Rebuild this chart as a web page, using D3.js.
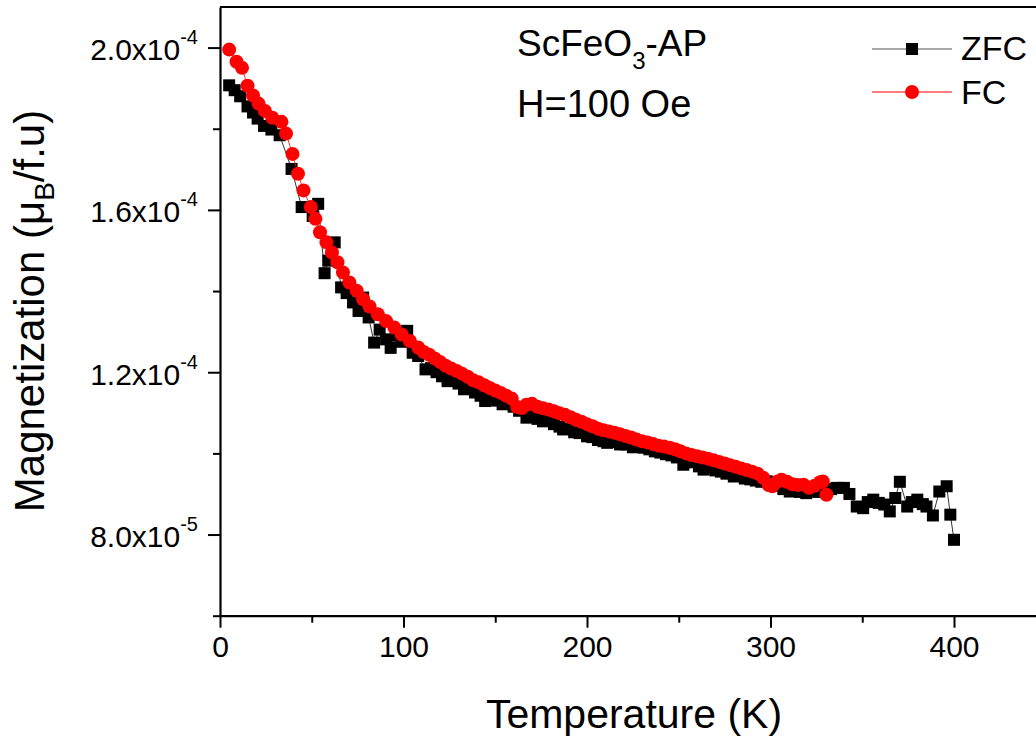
<!DOCTYPE html>
<html>
<head>
<meta charset="utf-8">
<script src="https://cdn.jsdelivr.net/npm/d3@7"></script>
<style>
  body { margin: 0; background: #fff; }
  svg { display: block; font-family: "Liberation Sans", Arial, sans-serif; }
</style>
</head>
<body>
<div id="chart"></div>
<script>
// ZFC branch: temperature (K) and magnetization (muB/f.u)
const zfcT = [5, 8, 11, 15, 18, 20.5, 24, 28, 32.5, 39, 44.5, 50.5, 53.5, 57, 59, 62.5, 66, 69, 72.5, 75.5,
  78, 81, 84, 87, 90.5, 93, 96, 99, 102, 105, 108, 112, 115, 118, 121, 124, 127, 130, 133, 136,
  139, 142, 144.5, 148, 151, 154, 157, 160, 163, 167, 170, 173, 176, 179, 182, 185, 187, 190, 193, 196,
  200, 203, 206, 209, 211, 214, 218, 221.5, 225, 228, 231, 234, 237, 240, 243, 246, 249, 252.5, 255, 258,
  261, 263.5, 267, 270, 273, 276, 280, 283, 286, 289, 292, 295, 298, 301, 304, 307, 310.5, 313, 316, 319.5,
  323, 326, 329, 333, 336, 340, 343, 347, 350.5, 353, 356, 359, 362, 365, 368, 370.5, 374.5, 377, 380, 383,
  385, 388.5, 392, 396, 398, 400];
const zfcM = [19.07e-5, 18.95e-5, 18.80e-5, 18.55e-5, 18.40e-5, 18.25e-5, 18.07e-5, 17.98e-5, 17.84e-5, 17.01e-5,
  16.07e-5, 15.85e-5, 16.15e-5, 14.44e-5, 14.75e-5, 15.20e-5, 14.09e-5, 13.95e-5, 13.72e-5, 13.51e-5,
  13.84e-5, 13.35e-5, 12.73e-5, 13.05e-5, 12.81e-5, 12.60e-5, 12.90e-5, 12.75e-5, 13.02e-5, 12.48e-5,
  12.40e-5, 12.07e-5, 12.10e-5, 12.00e-5, 11.90e-5, 11.78e-5, 11.80e-5, 11.72e-5, 11.58e-5, 11.65e-5,
  11.50e-5, 11.42e-5, 11.29e-5, 11.40e-5, 11.30e-5, 11.21e-5, 11.25e-5, 11.15e-5, 11.05e-5, 10.88e-5,
  10.95e-5, 10.85e-5, 10.79e-5, 10.82e-5, 10.72e-5, 10.66e-5, 10.59e-5, 10.60e-5, 10.52e-5, 10.50e-5,
  10.42e-5, 10.40e-5, 10.33e-5, 10.30e-5, 10.26e-5, 10.28e-5, 10.22e-5, 10.22e-5, 10.15e-5, 10.18e-5,
  10.14e-5, 10.10e-5, 10.05e-5, 10.02e-5, 9.98e-5, 9.95e-5, 9.90e-5, 9.72e-5, 9.85e-5, 9.78e-5,
  9.68e-5, 9.60e-5, 9.65e-5, 9.58e-5, 9.55e-5, 9.50e-5, 9.43e-5, 9.45e-5, 9.38e-5, 9.36e-5,
  9.33e-5, 9.30e-5, 9.31e-5, 9.22e-5, 9.20e-5, 9.12e-5, 9.06e-5, 9.10e-5, 9.05e-5, 9.02e-5,
  9.08e-5, 9.05e-5, 9.10e-5, 9.12e-5, 9.15e-5, 9.15e-5, 9.00e-5, 8.69e-5, 8.65e-5, 8.80e-5,
  8.86e-5, 8.78e-5, 8.74e-5, 8.57e-5, 8.90e-5, 9.30e-5, 8.69e-5, 8.80e-5, 8.86e-5, 8.75e-5,
  8.69e-5, 8.47e-5, 9.06e-5, 9.19e-5, 8.49e-5, 7.87e-5];

// FC branch
const fcT = [5, 9, 12, 15, 18, 21, 24.5, 28.5, 33.5, 36, 39.5, 42.5, 45.5, 49.5, 52, 54.5, 58, 61, 64, 67,
  70.5, 74.5, 78, 81.5, 86, 90.5, 95, 99, 103.5, 108, 111, 114, 117, 120, 123, 126, 129, 132, 135, 138,
  141, 144, 147, 150, 153, 156, 159, 162, 164.5, 167, 170, 173, 176, 179, 182, 185, 188, 191, 194, 197,
  200, 203, 206, 209, 212, 215, 218, 221, 224, 227, 230, 233, 236, 239, 242, 245, 248, 251, 254, 257,
  260, 263, 266, 269, 272, 275, 278, 281, 284, 287, 290, 293, 296, 299, 301, 303.5, 306, 309, 312, 315,
  318, 321, 324, 327, 328.5, 330.5];
const fcM = [19.95e-5, 19.65e-5, 19.50e-5, 19.06e-5, 18.82e-5, 18.62e-5, 18.44e-5, 18.27e-5, 18.17e-5, 17.88e-5,
  17.38e-5, 16.89e-5, 16.48e-5, 16.07e-5, 15.78e-5, 15.45e-5, 15.20e-5, 14.95e-5, 14.71e-5, 14.46e-5,
  14.21e-5, 14.01e-5, 13.80e-5, 13.62e-5, 13.43e-5, 13.26e-5, 13.10e-5, 12.93e-5, 12.77e-5, 12.61e-5,
  12.50e-5, 12.43e-5, 12.34e-5, 12.25e-5, 12.16e-5, 12.09e-5, 12.03e-5, 11.96e-5, 11.89e-5, 11.80e-5,
  11.75e-5, 11.68e-5, 11.61e-5, 11.55e-5, 11.49e-5, 11.42e-5, 11.35e-5, 11.14e-5, 11.12e-5, 11.20e-5,
  11.22e-5, 11.15e-5, 11.11e-5, 11.08e-5, 11.04e-5, 10.99e-5, 10.95e-5, 10.89e-5, 10.83e-5, 10.78e-5,
  10.72e-5, 10.67e-5, 10.61e-5, 10.57e-5, 10.54e-5, 10.51e-5, 10.47e-5, 10.43e-5, 10.39e-5, 10.34e-5,
  10.30e-5, 10.27e-5, 10.23e-5, 10.19e-5, 10.17e-5, 10.14e-5, 10.10e-5, 10.05e-5, 10.00e-5, 9.96e-5,
  9.93e-5, 9.90e-5, 9.87e-5, 9.83e-5, 9.79e-5, 9.75e-5, 9.71e-5, 9.67e-5, 9.63e-5, 9.59e-5,
  9.55e-5, 9.50e-5, 9.40e-5, 9.22e-5, 9.19e-5, 9.30e-5, 9.35e-5, 9.30e-5, 9.24e-5, 9.22e-5,
  9.23e-5, 9.15e-5, 9.20e-5, 9.29e-5, 9.31e-5, 8.98e-5];

// tick values
const xMajor = [0, 100, 200, 300, 400];
const xMinor = [50, 150, 250, 350, 450];
const yMajor = [8e-5, 1.2e-4, 1.6e-4, 2.0e-4];
const yMajorText = [["8.0x10", "-5"], ["1.2x10", "-4"], ["1.6x10", "-4"], ["2.0x10", "-4"]];
const yMinor = [6e-5, 1.0e-4, 1.4e-4, 1.8e-4];

const width = 1036, height = 740;
const plotLeft = 220, plotBottom = 615.7, plotTop = 7;

const svg = d3.select("#chart").append("svg")
  .attr("width", width)
  .attr("height", height);

const x = d3.scaleLinear().domain([0, 450]).range([plotLeft, plotLeft + 450 * 1.835]);
const y = d3.scaleLinear().domain([6e-5, 2.1e-4]).range([plotBottom, plotTop]);

// top frame line
svg.append("line")
  .attr("x1", plotLeft).attr("x2", width + 20)
  .attr("y1", plotTop).attr("y2", plotTop)
  .attr("stroke", "#000").attr("stroke-width", 2.2);

// minor ticks
svg.append("g")
  .attr("transform", `translate(0,${plotBottom})`)
  .call(d3.axisBottom(x).tickValues(xMinor).tickSize(7).tickFormat(""))
  .call(g => g.select(".domain").remove())
  .selectAll("line").attr("stroke-width", 2);

svg.append("g")
  .attr("transform", `translate(${plotLeft},0)`)
  .call(d3.axisLeft(y).tickValues(yMinor).tickSize(7).tickFormat(""))
  .call(g => g.select(".domain").remove())
  .selectAll("line").attr("stroke-width", 2);

// x axis
const xAxis = svg.append("g")
  .attr("transform", `translate(0,${plotBottom})`)
  .call(d3.axisBottom(x).tickValues(xMajor).tickSize(12).tickSizeOuter(0).tickPadding(8));
xAxis.select(".domain").attr("stroke-width", 2.2);
xAxis.selectAll("line").attr("stroke-width", 2);
xAxis.selectAll("text")
  .attr("font-size", 30)
  .attr("font-family", "Liberation Sans, Arial, sans-serif")
  .attr("fill", "#000");

// y axis
const yAxis = svg.append("g")
  .attr("transform", `translate(${plotLeft},0)`)
  .call(d3.axisLeft(y).tickValues(yMajor).tickSize(12).tickSizeOuter(0).tickPadding(10));
yAxis.select(".domain").attr("stroke-width", 2.2);
yAxis.selectAll("line").attr("stroke-width", 2);
yAxis.selectAll("text")
  .attr("font-size", 30)
  .attr("font-family", "Liberation Sans, Arial, sans-serif")
  .attr("fill", "#000")
  .attr("dy", "0.4em")
  .text(null)
  .each(function(d, i) {
    const t = d3.select(this);
    t.append("tspan").text(yMajorText[i][0]);
    t.append("tspan").attr("font-size", 20).attr("dy", "-0.8em").text(yMajorText[i][1]);
  });

// axis titles
svg.append("text")
  .attr("x", 634).attr("y", 728)
  .attr("text-anchor", "middle")
  .attr("font-size", 41)
  .text("Temperature (K)");

const yTitle = svg.append("text")
  .attr("transform", "translate(44,311) rotate(-90)")
  .attr("text-anchor", "middle")
  .attr("font-size", 42);
yTitle.append("tspan").text("Magnetization (\u03bc");
yTitle.append("tspan").attr("font-size", 28).attr("dy", 10).text("B");
yTitle.append("tspan").attr("dy", -10).text("/f.u)");

// connecting lines and markers
const zfc = zfcT.map((t, i) => ({t: t, m: zfcM[i]}));
const fc = fcT.map((t, i) => ({t: t, m: fcM[i]}));
const line = d3.line().x(d => x(d.t)).y(d => y(d.m));

svg.append("path").datum(zfc)
  .attr("d", line).attr("fill", "none")
  .attr("stroke", "#000").attr("stroke-width", 0.8);

svg.selectAll("rect.zfc")
  .data(zfc)
  .enter()
  .append("rect")
  .attr("class", "zfc")
  .attr("x", d => x(d.t) - 6)
  .attr("y", d => y(d.m) - 6)
  .attr("width", 12).attr("height", 12)
  .attr("fill", "#000");

svg.append("path").datum(fc)
  .attr("d", line).attr("fill", "none")
  .attr("stroke", "#ff0000").attr("stroke-width", 0.8);

svg.selectAll("circle.fc")
  .data(fc)
  .enter()
  .append("circle")
  .attr("class", "fc")
  .attr("cx", d => x(d.t))
  .attr("cy", d => y(d.m))
  .attr("r", 7)
  .attr("fill", "#ff0000");

// sample annotation
const ann = svg.append("text")
  .attr("x", 517).attr("y", 56)
  .attr("font-size", 37);
ann.append("tspan").text("ScFeO");
ann.append("tspan").attr("font-size", 24).attr("dy", 13).text("3");
ann.append("tspan").attr("dy", -13).text("-AP");

svg.append("text")
  .attr("x", 517).attr("y", 117)
  .attr("font-size", 38)
  .text("H=100 Oe");

// legend
const legend = svg.append("g");
legend.append("line")
  .attr("x1", 872).attr("x2", 952).attr("y1", 49).attr("y2", 49)
  .attr("stroke", "#555").attr("stroke-width", 1.2);
legend.append("rect")
  .attr("x", 912 - 6).attr("y", 49 - 6)
  .attr("width", 12).attr("height", 12)
  .attr("fill", "#000");
legend.append("text")
  .attr("x", 961).attr("y", 60)
  .attr("font-size", 34)
  .text("ZFC");

legend.append("line")
  .attr("x1", 872).attr("x2", 952).attr("y1", 92).attr("y2", 92)
  .attr("stroke", "#ff0000").attr("stroke-width", 1.2);
legend.append("circle")
  .attr("cx", 912).attr("cy", 92).attr("r", 7)
  .attr("fill", "#ff0000");
legend.append("text")
  .attr("x", 961).attr("y", 104)
  .attr("font-size", 34)
  .text("FC");
</script>
</body>
</html>
